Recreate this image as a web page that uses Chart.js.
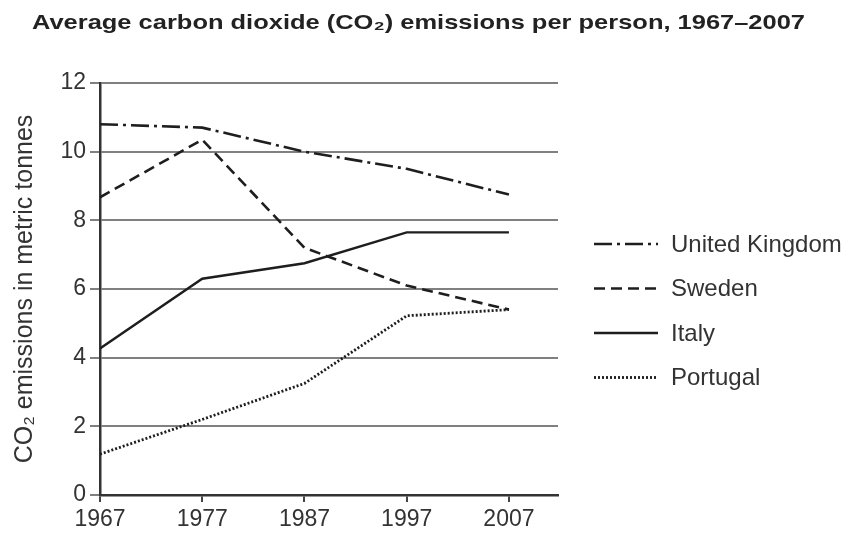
<!DOCTYPE html>
<html>
<head>
<meta charset="utf-8">
<script src="https://cdn.jsdelivr.net/npm/chart.js@4.4.1/dist/chart.umd.min.js"></script>
<style>
  html, body { margin: 0; padding: 0; background: #fff; }
  #wrap { width: 853px; height: 535px; }
</style>
</head>
<body>
<div id="wrap"><canvas id="co2Chart" width="853" height="535"></canvas></div>
<script>
const years = [1967, 1977, 1987, 1997, 2007];
const yTicks = [0, 2, 4, 6, 8, 10, 12];

const unitedKingdom = [10.8, 10.7, 10.0, 9.5, 8.75];
const sweden = [8.67, 10.35, 7.2, 6.1, 5.4];
const italy = [4.27, 6.3, 6.75, 7.65, 7.65];
const portugal = [1.19, 2.2, 3.25, 5.22, 5.4];

const titleText = 'Average carbon dioxide (CO\u2082) emissions per person, 1967\u20132007';

const ink = '#1e1e1e';
const textCol = '#333';
const fontFam = '"Liberation Sans", Arial, sans-serif';

const toPoints = vals => vals.map((v, i) => ({ x: years[i], y: v }));

const series = [
    { label: 'United Kingdom', data: unitedKingdom, dash: [18, 5, 3, 5], width: 2.6 },
    { label: 'Sweden', data: sweden, dash: [11, 6], width: 2.6 },
    { label: 'Italy', data: italy, dash: [], width: 2.4 },
    { label: 'Portugal', data: portugal, dash: [2, 2], width: 2.8 }
];

// title is a wide, stretched bold heading in the original
const wideTitle = {
    id: 'wideTitle',
    afterDraw(chart) {
        const { ctx } = chart;
        ctx.save();
        ctx.font = 'bold 21px ' + fontFam;
        ctx.fillStyle = '#222';
        ctx.textBaseline = 'alphabetic';
        const w = ctx.measureText(titleText).width;
        ctx.translate(32, 29);
        ctx.scale(773 / w, 1);
        ctx.fillText(titleText, 0, 0);
        ctx.restore();
    }
};

// legend drawn to the right of the plot, matching the line styles
const sideLegend = {
    id: 'sideLegend',
    afterDraw(chart) {
        const { ctx, chartArea } = chart;
        const x0 = chartArea.right + 36;
        const x1 = x0 + 64;
        const yStart = 244, gap = 44.5;
        ctx.save();
        ctx.font = '24px ' + fontFam;
        ctx.fillStyle = textCol;
        ctx.textBaseline = 'middle';
        chart.data.datasets.forEach((ds, i) => {
            const y = yStart + i * gap;
            ctx.beginPath();
            ctx.setLineDash(ds.borderDash || []);
            ctx.lineWidth = ds.borderWidth;
            ctx.strokeStyle = ds.borderColor;
            ctx.moveTo(x0, y);
            ctx.lineTo(x1, y);
            ctx.stroke();
            ctx.setLineDash([]);
            ctx.fillText(ds.label, x1 + 13, y + 1);
        });
        ctx.restore();
    }
};

const ctx = document.getElementById('co2Chart').getContext('2d');

const chart = new Chart(ctx, {
    type: 'line',
    data: {
        datasets: series.map(s => ({
            label: s.label,
            data: toPoints(s.data),
            borderColor: ink,
            borderWidth: s.width,
            borderDash: s.dash,
            tension: 0,
            fill: false,
            pointRadius: 0
        }))
    },
    plugins: [wideTitle, sideLegend],
    options: {
        responsive: false,
        animation: false,
        layout: { padding: { left: 10, right: 295, top: 83, bottom: 0 } },
        plugins: {
            legend: { display: false },
            tooltip: { enabled: false },
            title: { display: false }
        },
        scales: {
            x: {
                type: 'linear',
                min: 1967,
                max: 2011.8,
                afterBuildTicks: scale => { scale.ticks = years.map(v => ({ value: v })); },
                afterFit: scale => { scale.height = 40; },
                grid: { drawOnChartArea: false, drawTicks: true, tickLength: 7, color: '#444', lineWidth: 2 },
                border: { display: true, color: '#333', width: 2.5 },
                ticks: {
                    color: textCol,
                    padding: 4,
                    maxRotation: 0,
                    font: { family: fontFam, size: 23 },
                    callback: v => String(v)
                }
            },
            y: {
                min: 0,
                max: 12,
                afterBuildTicks: scale => { scale.ticks = yTicks.map(v => ({ value: v })); },
                afterFit: scale => { scale.width = 90; },
                grid: { color: '#808080', lineWidth: 2, tickLength: 10, drawTicks: true },
                border: { display: true, color: '#333', width: 2.5 },
                ticks: {
                    color: textCol,
                    padding: 4,
                    font: { family: fontFam, size: 23 }
                },
                title: {
                    display: true,
                    text: 'CO\u2082 emissions in metric tonnes',
                    color: textCol,
                    padding: { top: 0, bottom: 2 },
                    font: { family: fontFam, size: 25 }
                }
            }
        }
    }
});
</script>
</body>
</html>
